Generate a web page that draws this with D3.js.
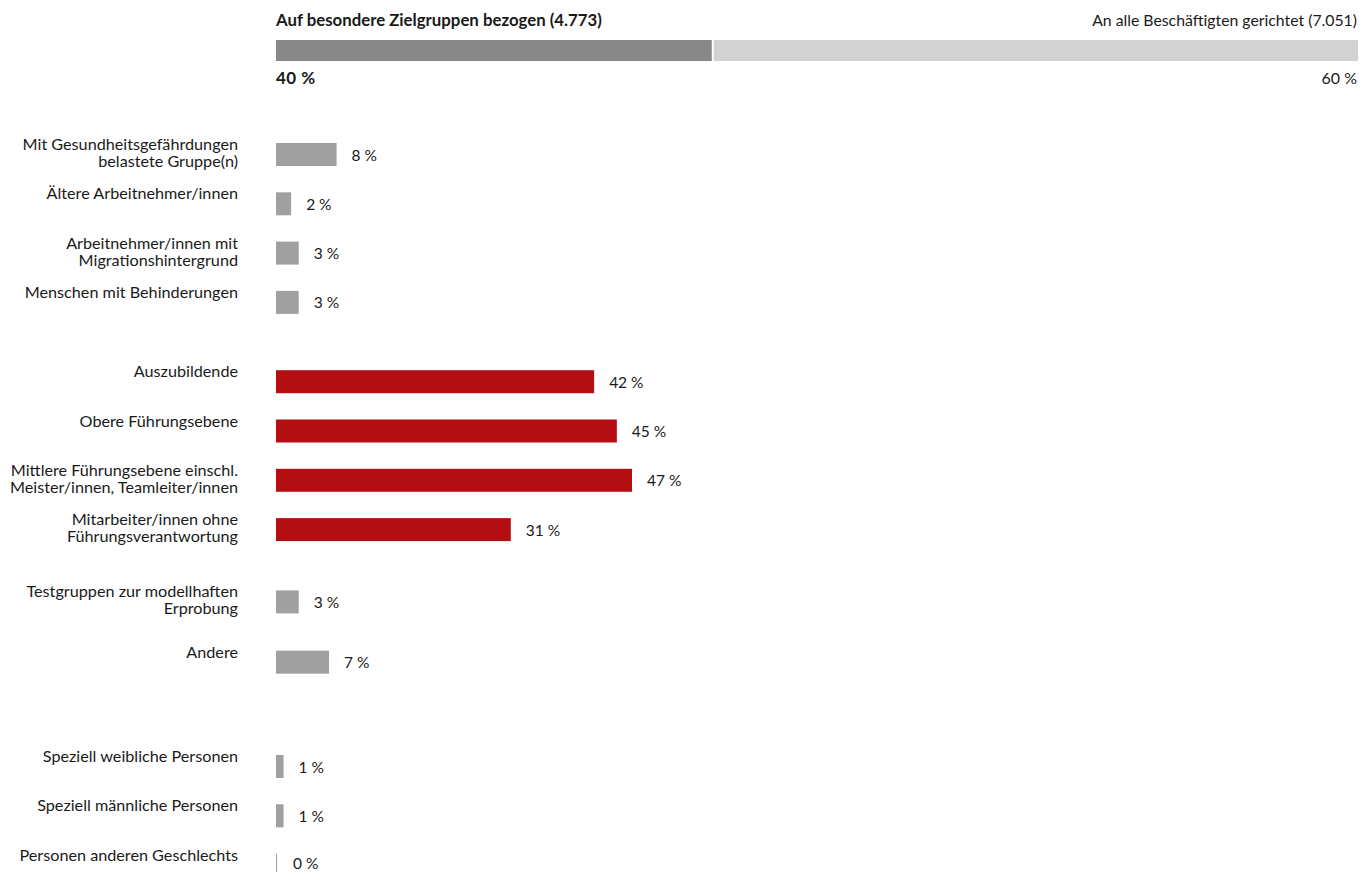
<!DOCTYPE html>
<html><head><meta charset="utf-8">
<script src="https://cdn.jsdelivr.net/npm/d3@7"></script>
<style>
body{margin:0;background:#fff;}
svg{display:block;}
text{font-family:Lato,"Open Sans",sans-serif;fill:#1a1a1a;}
</style></head>
<body>
<svg id="chart" width="1361" height="872"></svg>
<script>
// ---- data ----
const splitLabels = ["Auf besondere Zielgruppen bezogen (4.773)", "An alle Beschäftigten gerichtet (7.051)"];
const splitCounts = [4773, 7051];
const splitPercents = ["40 %", "60 %"];

const categories = [
  ["Mit Gesundheitsgefährdungen", "belastete Gruppe(n)"],
  ["Ältere Arbeitnehmer/innen"],
  ["Arbeitnehmer/innen mit", "Migrationshintergrund"],
  ["Menschen mit Behinderungen"],
  ["Auszubildende"],
  ["Obere Führungsebene"],
  ["Mittlere Führungsebene einschl.", "Meister/innen, Teamleiter/innen"],
  ["Mitarbeiter/innen ohne", "Führungsverantwortung"],
  ["Testgruppen zur modellhaften", "Erprobung"],
  ["Andere"],
  ["Speziell weibliche Personen"],
  ["Speziell männliche Personen"],
  ["Personen anderen Geschlechts"]
];
const values = [8, 2, 3, 3, 42, 45, 47, 31, 3, 7, 1, 1, 0];
const groups = ["a", "a", "a", "a", "b", "b", "b", "b", "c", "d", "e", "e", "e"];

// ---- layout ----
const svg = d3.select("#chart");
const groupOffset = {a: 0, b: 30, c: 53, d: 64, e: 119};
const rowStep = 49.3, firstTop = 143, barH = 23;
const yIndex = d3.scaleLinear().domain([0, 1]).range([firstTop, firstTop + rowStep]);
const rowTop = i => yIndex(i) + groupOffset[groups[i]];

const x = d3.scaleLinear().domain([0, 47]).range([276, 632]);
const colour = g => g === "b" ? "#b30f12" : "#a0a0a0";

// ---- top split bar ----
const total = d3.sum(splitCounts);
const xs = d3.scaleLinear().domain([0, total]).range([276, 1358]);
const cum = d3.cumsum(splitCounts);
const starts = [0, cum[0]];
svg.selectAll("rect.split").data(splitCounts).join("rect")
  .attr("class", "split")
  .attr("x", (d, i) => xs(starts[i]) + (i ? 1 : 0))
  .attr("width", (d, i) => xs(starts[i] + d) - xs(starts[i]) - 1)
  .attr("y", 40).attr("height", 21)
  .attr("fill", (d, i) => i ? "#d2d2d2" : "#888888");

svg.append("text").attr("x", 276).attr("y", 26).attr("font-size", 16.8).attr("font-weight", "bold")
  .text(splitLabels[0]);
svg.append("text").attr("x", 1357).attr("y", 26).attr("font-size", 15.8).attr("text-anchor", "end")
  .text(splitLabels[1]);
svg.append("text").attr("x", 276).attr("y", 84).attr("font-size", 17).attr("font-weight", "bold")
  .attr("letter-spacing", 0.5).text(splitPercents[0]);
svg.append("text").attr("x", 1357).attr("y", 84).attr("font-size", 16).attr("text-anchor", "end")
  .text(splitPercents[1]);

// ---- bars ----
const rows = svg.selectAll("g.row").data(values).join("g").attr("class", "row");
rows.append("rect")
  .attr("x", x(0))
  .attr("y", (d, i) => rowTop(i))
  .attr("width", d => Math.max(1, x(d) - x(0)))
  .attr("height", barH)
  .attr("fill", (d, i) => colour(groups[i]));

rows.append("text")
  .attr("x", d => x(d) + (d === 0 ? 17 : 15))
  .attr("y", (d, i) => Math.min(rowTop(i) + barH / 2 + 6, 869))
  .attr("font-size", 15.5)
  .text(d => d + " %");

rows.each(function(d, i) {
  const t = d3.select(this).append("text")
    .attr("x", 238).attr("text-anchor", "end").attr("font-size", 16.2);
  categories[i].forEach((line, k) => {
    t.append("tspan").attr("x", 238).attr("y", rowTop(i) + 7 + k * 17).text(line);
  });
});
</script>
</body></html>
